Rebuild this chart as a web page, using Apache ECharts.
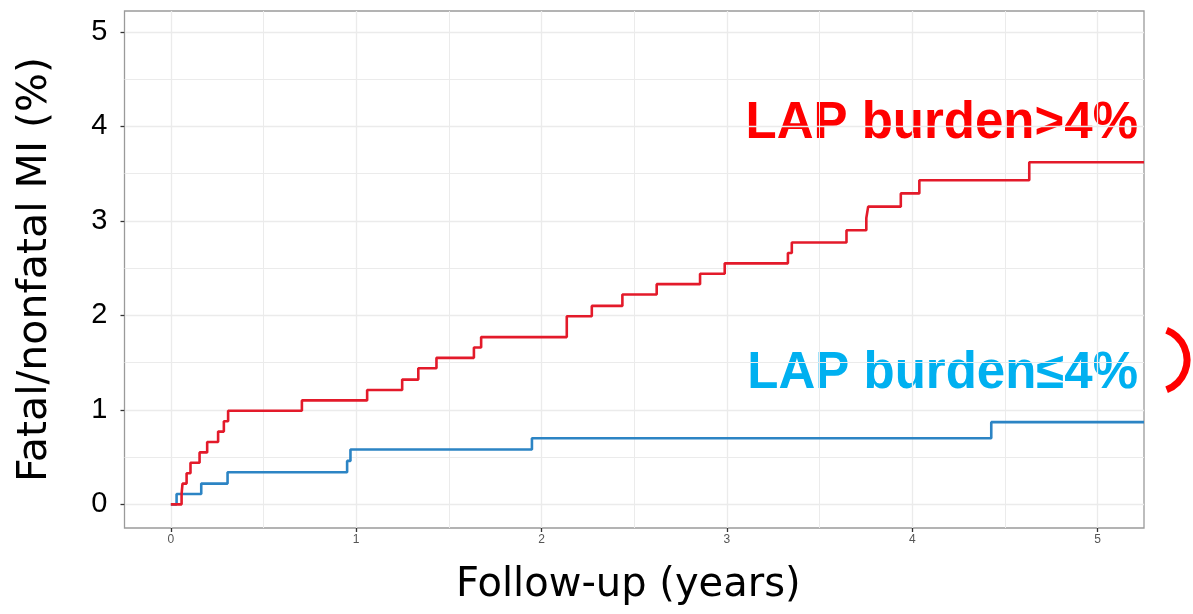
<!DOCTYPE html>
<html>
<head>
<meta charset="utf-8">
<script src="https://cdn.jsdelivr.net/npm/echarts@6/dist/echarts.min.js"></script>
<style>
  html, body { margin: 0; padding: 0; background: #fff; }
  #chart { width: 1193px; height: 614px; }
</style>
</head>
<body>
<div id="chart"></div>
<script>
// Cumulative incidence of fatal/nonfatal MI (%) by follow-up year, step curves
const highTimes  = [0, 0.058, 0.063, 0.085, 0.106, 0.155, 0.196, 0.255, 0.286, 0.309, 0.707, 1.059, 1.248, 1.335, 1.433, 1.635, 1.674, 2.136, 2.271, 2.436, 2.621, 2.855, 2.988, 3.329, 3.350, 3.645, 3.752, 3.762, 3.938, 4.038, 4.631, 5.25];
const highValues = [0, 0.11,  0.22,  0.33,  0.44,  0.55,  0.66,  0.77,  0.88,  0.99,  1.10,  1.21,  1.32,  1.44,  1.55,  1.66,  1.77,  1.99,  2.10,  2.22,  2.33,  2.44,  2.55,  2.66,  2.77,  2.90,  3.03,  3.15,  3.29,  3.43,  3.62,  3.62];

const lowTimes  = [0, 0.031, 0.164, 0.306, 0.951, 0.969, 1.948, 4.426, 5.25];
const lowValues = [0, 0.11,  0.22,  0.34,  0.46,  0.58,  0.70,  0.87,  0.87];

const xTicks = [0, 1, 2, 3, 4, 5];
const xMinorGrid = [0.5, 1.5, 2.5, 3.5, 4.5];
const yTicks = [0, 1, 2, 3, 4, 5];
const yMinorGrid = [0.5, 1.5, 2.5, 3.5, 4.5];

const highLabel = 'LAP burden>4%';
const lowLabel = 'LAP burden\u22644%';
const xTitle = 'Follow-up (years)';
const yTitle = 'Fatal/nonfatal MI (%)';

const pairs = (t, v) => t.map((x, i) => [x, v[i]]);

const chart = echarts.init(document.getElementById('chart'), null, { renderer: 'canvas' });

const gridColor = '#ebebeb';
const X_MIN = -0.25, X_MAX = 5.25, Y_MIN = -0.25, Y_MAX = 5.22;

chart.setOption({
  animation: false,
  backgroundColor: '#ffffff',
  grid: {
    left: 124.5, right: 49, top: 11, bottom: 86,
    show: true, borderColor: '#9a9a9a', borderWidth: 1.3, backgroundColor: 'transparent'
  },
  xAxis: [
    {
      type: 'value', min: X_MIN, max: X_MAX,
      name: xTitle, nameLocation: 'middle', nameGap: 38,
      nameTextStyle: { fontFamily: 'DejaVu Sans', fontSize: 40, color: '#000', padding: [0, 12, 0, 0] },
      axisLine: { show: false, onZero: false },
      axisTick: { show: true, inside: false, length: 4, customValues: xTicks, lineStyle: { color: '#333', width: 1.3 } },
      axisLabel: { customValues: xTicks, fontSize: 12, color: '#555', margin: 6, fontFamily: 'Liberation Sans' },
      splitLine: { show: true, lineStyle: { color: gridColor, width: 1.3 } }
    },
    {
      type: 'value', min: X_MIN, max: X_MAX, position: 'bottom',
      axisLine: { show: false, onZero: false },
      axisTick: { show: false, customValues: xMinorGrid },
      axisLabel: { show: false, customValues: xMinorGrid },
      splitLine: { show: true, lineStyle: { color: gridColor, width: 1 } }
    }
  ],
  yAxis: [
    {
      type: 'value', min: Y_MIN, max: Y_MAX,
      name: yTitle, nameLocation: 'middle', nameGap: 69,
      nameTextStyle: { fontFamily: 'DejaVu Sans', fontSize: 41, color: '#000' },
      axisLine: { show: false, onZero: false },
      axisTick: { show: true, inside: false, length: 4, customValues: yTicks, lineStyle: { color: '#333', width: 1.3 } },
      axisLabel: { customValues: yTicks, fontSize: 29, color: '#000', margin: 17, fontFamily: 'Liberation Sans' },
      splitLine: { show: true, lineStyle: { color: gridColor, width: 1.3 } }
    },
    {
      type: 'value', min: Y_MIN, max: Y_MAX, position: 'left',
      axisLine: { show: false, onZero: false },
      axisTick: { show: false, customValues: yMinorGrid },
      axisLabel: { show: false, customValues: yMinorGrid },
      splitLine: { show: true, lineStyle: { color: gridColor, width: 1 } }
    }
  ],
  series: [
    {
      name: highLabel, type: 'line', step: 'end', showSymbol: false, symbol: 'none',
      data: pairs(highTimes, highValues),
      lineStyle: { color: '#e31a2a', width: 2.6 }, z: 3
    },
    {
      name: lowLabel, type: 'line', step: 'end', showSymbol: false, symbol: 'none',
      data: pairs(lowTimes, lowValues),
      lineStyle: { color: '#2c84c4', width: 2.6 }, z: 2
    }
  ],
  graphic: [
    {
      type: 'text', x: 1138, y: 98,
      style: { text: highLabel, fill: '#ff0000', font: 'bold 51px "Liberation Sans"', align: 'right', verticalAlign: 'top' }
    },
    {
      type: 'text', x: 1138, y: 348,
      style: { text: lowLabel, fill: '#00b0f0', font: 'bold 51px "Liberation Sans"', align: 'right', verticalAlign: 'top' }
    },
    {
      type: 'arc',
      shape: { cx: 1155, cy: 360, r: 32, startAngle: -1.2, endAngle: 1.2 },
      style: { stroke: '#ff0000', lineWidth: 7, fill: null }
    }
  ]
});
</script>
</body>
</html>
